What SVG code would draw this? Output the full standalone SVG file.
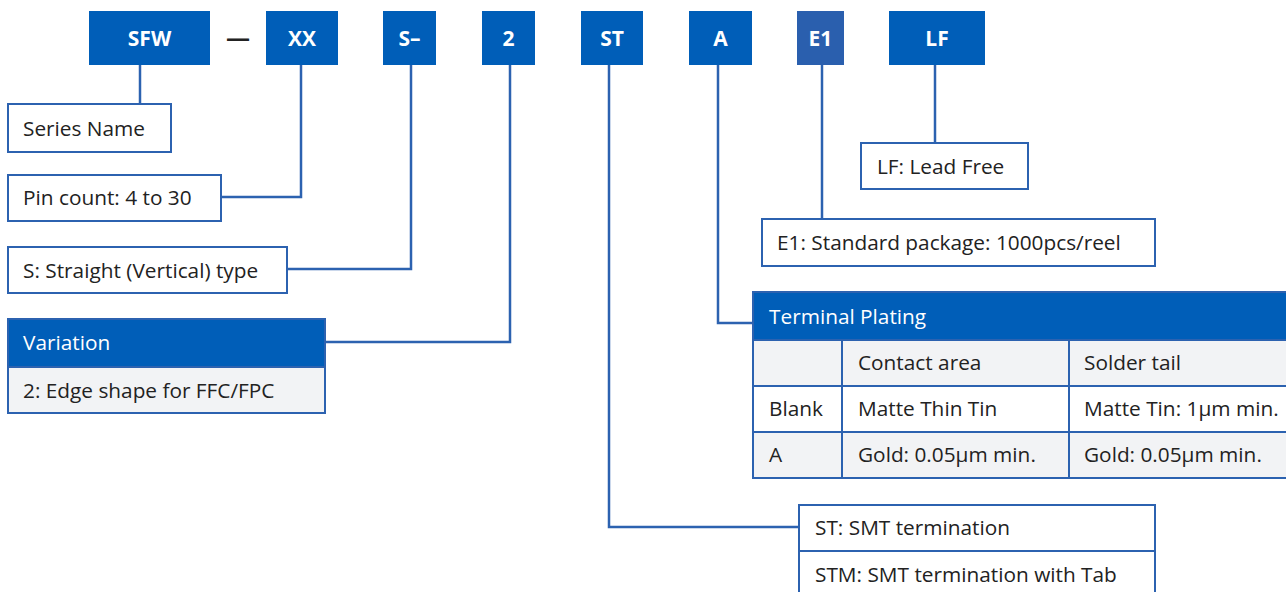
<svg xmlns="http://www.w3.org/2000/svg" width="1286" height="592" viewBox="0 0 1286 592">
<style>
.code{fill:#005eb8}
.codet{font-family:"Open Sans","Noto Sans",sans-serif;font-weight:bold;font-size:21px;fill:#fff;text-anchor:middle}
.box{fill:#fff;stroke:#2c62b0;stroke-width:2}
.gbox{fill:#f2f3f5;stroke:#2c62b0;stroke-width:2}
.hdr{fill:#005eb8;stroke:#2c62b0;stroke-width:2}
.t{font-family:"Open Sans","Noto Sans",sans-serif;font-size:20.8px;fill:#222}
.tw{font-family:"Open Sans","Noto Sans",sans-serif;font-size:20.8px;fill:#fff}
.ln{fill:none;stroke:#2c62b0;stroke-width:2.5}
</style>
<rect width="1286" height="592" fill="#fff"/>
<g id="code-SFW"><rect class="code" x="89" y="11" width="121" height="54"/><text class="codet" x="149.5" y="46">SFW</text></g>
<text x="238" y="46" font-family="Open Sans, sans-serif" font-size="24" font-weight="bold" fill="#222" text-anchor="middle">—</text>
<g id="code-XX"><rect class="code" x="266" y="11" width="72" height="54"/><text class="codet" x="302" y="46">XX</text></g>
<g id="code-S"><rect class="code" x="383" y="11" width="53" height="54"/><text class="codet" x="409.5" y="46">S–</text></g>
<g id="code-2"><rect class="code" x="482" y="11" width="53" height="54"/><text class="codet" x="508.5" y="46">2</text></g>
<g id="code-ST"><rect class="code" x="581" y="11" width="62" height="54"/><text class="codet" x="612" y="46">ST</text></g>
<g id="code-A"><rect class="code" x="689" y="11" width="63" height="54"/><text class="codet" x="720.5" y="46">A</text></g>
<g id="code-E1"><rect x="797" y="11" width="47" height="54" fill="#2a5fae"/><text class="codet" x="820.5" y="46">E1</text></g>
<g id="code-LF"><rect class="code" x="889" y="11" width="96" height="54"/><text class="codet" x="937" y="46">LF</text></g>

<g id="connectors">
<path class="ln" d="M140 65 V104"/>
<path class="ln" d="M301 65 V197 H221"/>
<path class="ln" d="M411 65 V269 H287"/>
<path class="ln" d="M510 65 V342 H325"/>
<path class="ln" d="M609 65 V527 H799"/>
<path class="ln" d="M718 65 V323 H753"/>
<path class="ln" d="M822 65 V219"/>
<path class="ln" d="M935 65 V143"/>
</g>

<g id="series-name"><rect class="box" x="8" y="104" width="163" height="48"/><text class="t" x="23" y="136">Series Name</text></g>
<g id="pin-count"><rect class="box" x="8" y="175" width="213" height="46"/><text class="t" x="23" y="205">Pin count: 4 to 30</text></g>
<g id="straight"><rect class="box" x="8" y="247" width="279" height="46"/><text class="t" x="23" y="278">S: Straight (Vertical) type</text></g>
<g id="variation">
<rect class="hdr" x="8" y="319" width="317" height="48"/><text class="tw" x="23" y="350">Variation</text>
<rect class="gbox" x="8" y="367" width="317" height="46"/><text class="t" x="23" y="398">2: Edge shape for FFC/FPC</text>
</g>
<g id="lead-free"><rect class="box" x="861" y="143" width="167" height="46"/><text class="t" x="877" y="174">LF: Lead Free</text></g>
<g id="package"><rect class="box" x="762" y="219" width="393" height="47"/><text class="t" x="777" y="250">E1: Standard package: 1000pcs/reel</text></g>
<g id="terminal-plating">
<rect class="hdr" x="753" y="292" width="540" height="48"/><text class="tw" x="769" y="324">Terminal Plating</text>
<rect class="gbox" x="753" y="340" width="89" height="46"/><rect class="gbox" x="842" y="340" width="227" height="46"/><rect class="gbox" x="1069" y="340" width="224" height="46"/>
<rect class="box" x="753" y="386" width="89" height="46"/><rect class="box" x="842" y="386" width="227" height="46"/><rect class="box" x="1069" y="386" width="224" height="46"/>
<rect class="gbox" x="753" y="432" width="89" height="46"/><rect class="gbox" x="842" y="432" width="227" height="46"/><rect class="gbox" x="1069" y="432" width="224" height="46"/>
<text class="t" x="858" y="370">Contact area</text><text class="t" x="1084" y="370">Solder tail</text>
<text class="t" x="769" y="416">Blank</text><text class="t" x="858" y="416">Matte Thin Tin</text><text class="t" x="1084" y="416">Matte Tin: 1µm min.</text>
<text class="t" x="769" y="462">A</text><text class="t" x="858" y="462">Gold: 0.05µm min.</text><text class="t" x="1084" y="462">Gold: 0.05µm min.</text>
</g>
<g id="termination">
<rect class="box" x="799" y="505" width="356" height="46"/><text class="t" x="815" y="535">ST: SMT termination</text>
<rect class="box" x="799" y="551" width="356" height="46"/><text class="t" x="815" y="582">STM: SMT termination with Tab</text>
</g>
</svg>
